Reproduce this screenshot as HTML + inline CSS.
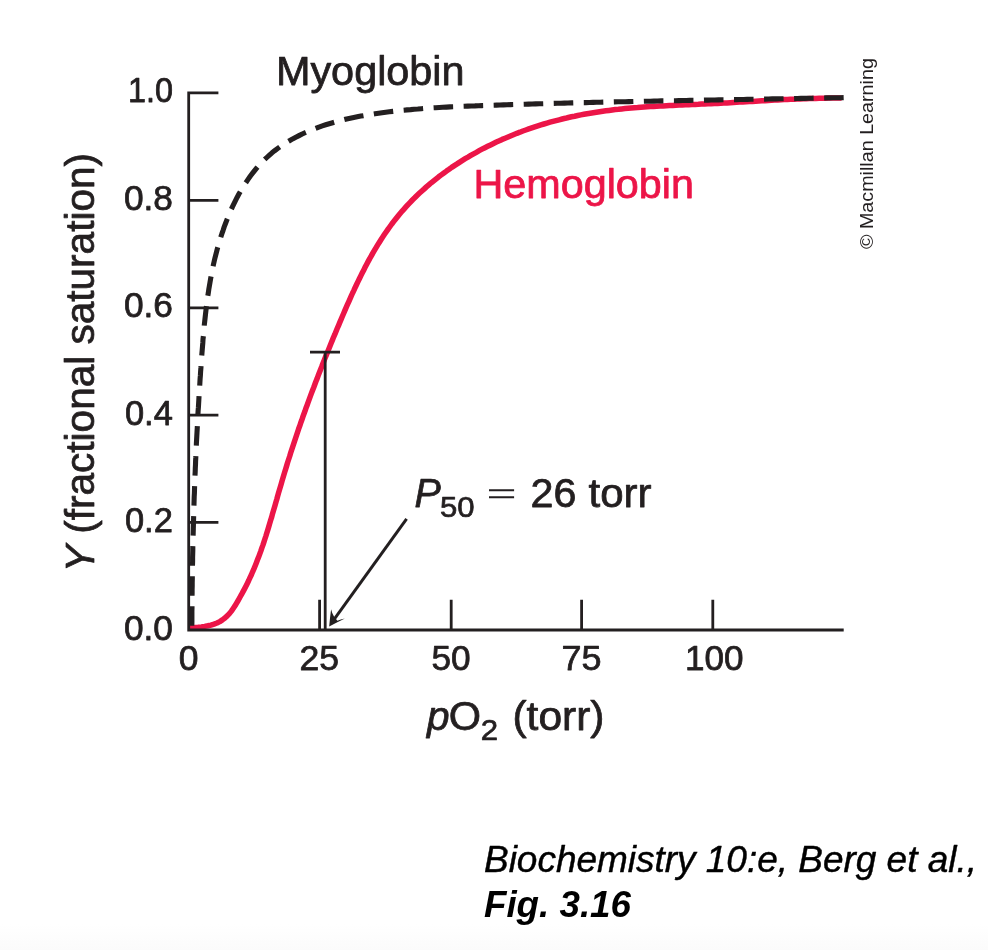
<!DOCTYPE html>
<html><head><meta charset="utf-8"><title>Fig 3.16</title>
<style>
html,body{margin:0;padding:0;background:#fff;}
body{width:988px;height:950px;overflow:hidden;font-family:"Liberation Sans",sans-serif;}
svg{display:block;position:absolute;left:0;top:0;will-change:transform;}
text{font-family:"Liberation Sans",sans-serif;fill:#231f20;}
.t{stroke:#231f20;stroke-linejoin:round;}
.r{fill:#ec1548;stroke:#ec1548;stroke-linejoin:round;}
.b{stroke-width:0.75px;}
.k{stroke-width:0.75px;}
.s{stroke-width:0.7px;}
.c{fill:#000;}
#cap1{stroke:#000;stroke-width:0.45px;stroke-linejoin:round;}
.ax{stroke:#231f20;stroke-width:2.8;fill:none;}
</style></head><body>
<svg width="988" height="950" viewBox="0 0 988 950">
<rect x="0" y="0" width="988" height="950" fill="#ffffff"/>
<defs><linearGradient id="bg" x1="0" y1="0" x2="0" y2="1"><stop offset="0" stop-color="#ffffff"/><stop offset="1" stop-color="#fbfbfb"/></linearGradient></defs>
<rect x="0" y="924" width="988" height="26" fill="url(#bg)"/>
<!-- hemoglobin curve -->
<path id="hb" d="M188.7,627.9 L191.8,627.7 L194.9,627.5 L198.1,627.3 L201.3,626.9 L204.6,626.4 L207.8,625.8 L210.9,625.1 L214.0,624.1 L217.0,623.0 L219.8,621.6 L222.4,619.9 L224.9,618.0 L227.2,615.9 L229.4,613.6 L231.4,611.1 L233.2,608.5 L235.0,605.8 L236.6,603.1 L238.3,600.3 L239.8,597.5 L241.4,594.7 L242.9,591.9 L244.4,589.1 L245.9,586.2 L247.3,583.4 L248.7,580.5 L250.0,577.6 L251.4,574.7 L252.6,571.8 L253.9,568.9 L255.1,566.0 L256.3,563.0 L257.4,560.1 L258.6,557.1 L259.7,554.1 L260.8,551.1 L261.8,548.1 L262.9,545.1 L263.9,542.1 L264.9,539.0 L265.9,536.0 L266.8,533.0 L267.8,529.9 L268.7,526.9 L269.6,523.8 L270.5,520.7 L271.5,517.7 L272.3,514.6 L273.2,511.5 L274.1,508.5 L275.0,505.4 L275.9,502.3 L276.8,499.3 L277.6,496.2 L278.5,493.1 L279.4,490.0 L280.3,487.0 L281.2,483.9 L282.1,480.8 L283.0,477.8 L283.9,474.7 L284.8,471.7 L285.8,468.6 L286.7,465.6 L287.6,462.5 L288.6,459.5 L289.6,456.5 L290.5,453.4 L291.5,450.4 L292.5,447.4 L293.5,444.4 L294.5,441.3 L295.5,438.3 L296.5,435.3 L297.5,432.3 L298.5,429.3 L299.6,426.3 L300.6,423.3 L301.7,420.3 L302.7,417.3 L303.8,414.3 L304.9,411.3 L305.9,408.3 L307.0,405.4 L308.1,402.4 L309.2,399.4 L310.3,396.4 L311.4,393.4 L312.5,390.5 L313.7,387.5 L314.8,384.5 L315.9,381.5 L317.1,378.6 L318.2,375.6 L319.4,372.6 L320.5,369.7 L321.7,366.7 L322.8,363.7 L324.0,360.8 L325.2,357.8 L326.4,354.9 L327.6,351.9 L328.8,349.0 L330.0,346.0 L331.2,343.0 L332.4,340.1 L333.6,337.1 L334.9,334.2 L336.1,331.2 L337.3,328.3 L338.6,325.3 L339.8,322.4 L341.1,319.4 L342.3,316.5 L343.6,313.5 L344.8,310.6 L346.1,307.6 L347.4,304.7 L348.7,301.8 L350.0,298.8 L351.3,295.9 L352.6,293.0 L354.0,290.1 L355.3,287.2 L356.7,284.3 L358.1,281.4 L359.5,278.5 L360.9,275.6 L362.3,272.8 L363.8,269.9 L365.2,267.1 L366.7,264.2 L368.2,261.4 L369.7,258.6 L371.3,255.9 L372.8,253.1 L374.4,250.4 L376.1,247.6 L377.7,244.9 L379.4,242.2 L381.1,239.6 L382.8,236.9 L384.5,234.3 L386.3,231.7 L388.1,229.1 L390.0,226.5 L391.8,224.0 L393.8,221.4 L395.7,219.0 L397.7,216.5 L399.7,214.1 L401.7,211.6 L403.8,209.3 L405.9,206.9 L408.0,204.6 L410.2,202.3 L412.4,200.0 L414.7,197.8 L417.0,195.5 L419.3,193.3 L421.6,191.2 L424.0,189.1 L426.4,186.9 L428.8,184.9 L431.2,182.8 L433.7,180.8 L436.2,178.8 L438.7,176.8 L441.3,174.9 L443.9,173.0 L446.5,171.1 L449.1,169.3 L451.7,167.4 L454.4,165.6 L457.1,163.9 L459.8,162.1 L462.5,160.4 L465.2,158.7 L468.0,157.1 L470.8,155.4 L473.6,153.8 L476.4,152.3 L479.2,150.7 L482.0,149.2 L484.9,147.7 L487.7,146.3 L490.6,144.9 L493.5,143.5 L496.4,142.1 L499.3,140.8 L502.2,139.4 L505.1,138.2 L508.1,136.9 L511.0,135.7 L514.0,134.5 L516.9,133.3 L519.9,132.2 L522.9,131.0 L525.8,130.0 L528.8,128.9 L531.8,127.9 L534.8,126.9 L537.9,125.9 L540.9,124.9 L543.9,124.0 L547.0,123.1 L550.0,122.2 L553.0,121.4 L556.1,120.6 L559.2,119.8 L562.2,119.0 L565.3,118.3 L568.4,117.5 L571.5,116.8 L574.6,116.2 L577.7,115.5 L580.8,114.9 L583.9,114.3 L587.0,113.7 L590.2,113.2 L593.3,112.7 L596.4,112.2 L599.6,111.7 L602.7,111.2 L605.9,110.8 L609.0,110.4 L612.2,110.0 L615.3,109.6 L618.5,109.3 L621.7,108.9 L624.9,108.6 L628.0,108.3 L631.2,108.0 L634.4,107.7 L637.6,107.5 L640.8,107.2 L644.0,107.0 L647.1,106.8 L650.3,106.6 L653.5,106.4 L656.7,106.2 L659.9,106.0 L663.1,105.9 L666.3,105.7 L669.5,105.5 L672.7,105.4 L675.9,105.2 L679.1,105.1 L682.3,104.9 L685.5,104.8 L688.7,104.7 L691.9,104.5 L695.1,104.4 L698.3,104.3 L701.5,104.1 L704.7,104.0 L707.9,103.8 L711.1,103.7 L714.3,103.5 L717.5,103.4 L720.6,103.2 L723.8,103.0 L727.0,102.9 L730.2,102.7 L733.4,102.5 L736.5,102.3 L739.7,102.1 L742.9,101.9 L746.0,101.8 L749.2,101.6 L752.4,101.4 L755.6,101.2 L758.7,101.0 L761.9,100.8 L765.1,100.7 L768.2,100.5 L771.4,100.3 L774.6,100.1 L777.7,100.0 L780.9,99.8 L784.1,99.6 L787.3,99.5 L790.4,99.3 L793.6,99.2 L796.8,99.1 L800.0,98.9 L803.2,98.8 L806.3,98.7 L809.5,98.6 L812.7,98.5 L815.9,98.4 L819.1,98.3 L822.3,98.2 L825.5,98.2 L828.7,98.1 L831.9,98.1 L835.2,98.1 L838.4,98.1 L841.6,98.1" fill="none" stroke="#ec1548" stroke-width="5.5" stroke-linejoin="round" stroke-linecap="butt"/>
<!-- axes -->
<path class="ax" d="M218.4,92.9 H188.7 V630 H843.7"/>
<path class="ax" d="M188.7,200.4 H218.4 M188.7,307.9 H218.4 M188.7,415.2 H218.4 M188.7,522.4 H218.4"/>
<path class="ax" d="M319.6,599.8 V630 M451.2,599.8 V630 M581.6,599.8 V630 M712.8,599.8 V630"/>
<!-- P50 marker -->
<path class="ax" d="M325.2,352.1 V630 M310,352.1 H340"/>
<!-- myoglobin curve -->
<path id="mb" d="M191.8,625.8 L191.9,622.2 L191.9,618.6 L191.9,615.0 L191.9,611.4 L192.0,607.8 L192.0,604.2 L192.0,600.6 L192.0,597.0 L192.1,593.4 L192.1,589.8 L192.2,586.2 L192.2,582.6 L192.3,579.0 L192.3,575.5 L192.4,571.9 L192.4,568.3 L192.5,564.7 L192.6,561.1 L192.6,557.5 L192.7,554.0 L192.8,550.4 L192.8,546.8 L192.9,543.2 L193.0,539.6 L193.1,536.1 L193.2,532.5 L193.3,528.9 L193.4,525.3 L193.5,521.8 L193.6,518.2 L193.7,514.6 L193.8,511.0 L193.9,507.5 L194.0,503.9 L194.1,500.3 L194.2,496.7 L194.4,493.2 L194.5,489.6 L194.6,486.0 L194.8,482.4 L194.9,478.9 L195.0,475.3 L195.2,471.7 L195.3,468.2 L195.5,464.6 L195.6,461.0 L195.8,457.4 L195.9,453.9 L196.1,450.3 L196.3,446.7 L196.4,443.1 L196.6,439.6 L196.8,436.0 L197.0,432.4 L197.2,428.9 L197.4,425.3 L197.5,421.7 L197.7,418.1 L197.9,414.6 L198.1,411.0 L198.4,407.4 L198.6,403.8 L198.8,400.3 L199.0,396.7 L199.2,393.1 L199.4,389.5 L199.7,385.9 L199.9,382.4 L200.1,378.8 L200.4,375.2 L200.6,371.6 L200.9,368.0 L201.1,364.5 L201.4,360.9 L201.6,357.3 L201.9,353.7 L202.2,350.1 L202.5,346.5 L202.8,343.0 L203.0,339.4 L203.4,335.8 L203.7,332.2 L204.0,328.6 L204.3,325.0 L204.7,321.5 L205.1,317.9 L205.5,314.3 L205.9,310.8 L206.3,307.2 L206.8,303.6 L207.2,300.1 L207.7,296.5 L208.3,293.0 L208.8,289.4 L209.4,285.9 L210.0,282.4 L210.6,278.8 L211.3,275.3 L212.0,271.8 L212.7,268.3 L213.4,264.8 L214.2,261.3 L215.0,257.8 L215.9,254.4 L216.8,250.9 L217.7,247.4 L218.7,244.0 L219.7,240.6 L220.8,237.1 L221.9,233.7 L223.1,230.3 L224.2,226.9 L225.5,223.5 L226.8,220.1 L228.1,216.8 L229.5,213.5 L230.9,210.2 L232.4,206.9 L234.0,203.6 L235.6,200.4 L237.2,197.2 L238.9,194.0 L240.7,190.9 L242.5,187.8 L244.4,184.8 L246.4,181.8 L248.4,178.9 L250.4,176.0 L252.6,173.2 L254.8,170.4 L257.0,167.7 L259.4,165.0 L261.8,162.5 L264.2,159.9 L266.8,157.5 L269.4,155.1 L272.0,152.8 L274.8,150.6 L277.6,148.5 L280.5,146.4 L283.4,144.5 L286.4,142.5 L289.5,140.7 L292.6,138.9 L295.8,137.2 L299.0,135.6 L302.2,134.0 L305.5,132.5 L308.8,131.1 L312.1,129.7 L315.5,128.4 L318.9,127.1 L322.3,125.9 L325.7,124.8 L329.2,123.7 L332.7,122.7 L336.1,121.7 L339.6,120.8 L343.1,119.9 L346.6,119.0 L350.2,118.2 L353.7,117.5 L357.2,116.8 L360.8,116.1 L364.3,115.5 L367.9,114.8 L371.4,114.3 L375.0,113.7 L378.6,113.2 L382.1,112.7 L385.7,112.2 L389.3,111.8 L392.8,111.4 L396.4,111.0 L400.0,110.6 L403.5,110.2 L407.1,109.9 L410.7,109.6 L414.2,109.2 L417.8,109.0 L421.4,108.7 L424.9,108.4 L428.5,108.2 L432.1,107.9 L435.6,107.7 L439.2,107.5 L442.8,107.3 L446.4,107.1 L449.9,106.9 L453.5,106.8 L457.1,106.6 L460.6,106.4 L464.2,106.3 L467.8,106.1 L471.3,106.0 L474.9,105.9 L478.5,105.7 L482.1,105.6 L485.6,105.5 L489.2,105.4 L492.8,105.2 L496.4,105.1 L499.9,105.0 L503.5,104.9 L507.1,104.8 L510.7,104.6 L514.2,104.5 L517.8,104.4 L521.4,104.3 L525.0,104.2 L528.6,104.1 L532.1,104.0 L535.7,103.9 L539.3,103.8 L542.9,103.7 L546.4,103.6 L550.0,103.5 L553.6,103.4 L557.2,103.3 L560.8,103.2 L564.4,103.1 L567.9,103.0 L571.5,102.9 L575.1,102.8 L578.7,102.7 L582.3,102.6 L585.8,102.6 L589.4,102.5 L593.0,102.4 L596.6,102.3 L600.2,102.2 L603.8,102.1 L607.3,102.1 L610.9,102.0 L614.5,101.9 L618.1,101.8 L621.7,101.7 L625.3,101.7 L628.9,101.6 L632.4,101.5 L636.0,101.4 L639.6,101.4 L643.2,101.3 L646.8,101.2 L650.4,101.2 L653.9,101.1 L657.5,101.0 L661.1,100.9 L664.7,100.9 L668.3,100.8 L671.9,100.7 L675.5,100.7 L679.0,100.6 L682.6,100.5 L686.2,100.5 L689.8,100.4 L693.4,100.3 L697.0,100.3 L700.6,100.2 L704.1,100.1 L707.7,100.1 L711.3,100.0 L714.9,100.0 L718.5,99.9 L722.1,99.8 L725.6,99.8 L729.2,99.7 L732.8,99.6 L736.4,99.6 L740.0,99.5 L743.6,99.5 L747.1,99.4 L750.7,99.3 L754.3,99.3 L757.9,99.2 L761.5,99.1 L765.1,99.1 L768.6,99.0 L772.2,98.9 L775.8,98.9 L779.4,98.8 L783.0,98.8 L786.5,98.7 L790.1,98.6 L793.7,98.6 L797.3,98.5 L800.9,98.4 L804.4,98.4 L808.0,98.3 L811.6,98.2 L815.2,98.1 L818.7,98.1 L822.3,98.0 L825.9,97.9 L829.5,97.9 L833.0,97.8 L836.6,97.7 L840.2,97.7 L843.8,97.6" fill="none" stroke="#231f20" stroke-width="5.1" stroke-dasharray="19.534 10.519" stroke-linejoin="round"/>
<!-- arrow -->
<path d="M406.6,518.9 L333.4,620.4" stroke="#231f20" stroke-width="3.0" fill="none"/>
<path d="M329.2,626.4 Q329.9,618.0 331.1,609.2 Q332.2,613.8 334.0,616.6 L337.4,620.7 Q340.5,619.6 344.9,618.5 Q336.6,622.6 329.2,626.4 Z" fill="#231f20"/>
<!-- equals sign -->
<path d="M489,490.2 H514.1 M489,497.3 H514.1" stroke="#231f20" stroke-width="2.1" fill="none"/>
<!-- labels -->
<text id="myo" class="t b" x="275.98" y="85.1" font-size="39.8" style="" textLength="188.59" lengthAdjust="spacingAndGlyphs">Myoglobin</text>
<text id="hemo" class="r b" x="473.44" y="197.6" font-size="39.8" style="" textLength="220.56" lengthAdjust="spacingAndGlyphs">Hemoglobin</text>
<text id="y10" class="t k" x="128.00" y="102.4" font-size="34.3" style="" textLength="45.03" lengthAdjust="spacingAndGlyphs">1.0</text>
<text id="y08" class="t k" x="123.93" y="209.9" font-size="34.3" style="" textLength="49.03" lengthAdjust="spacingAndGlyphs">0.8</text>
<text id="y06" class="t k" x="123.93" y="317.4" font-size="34.3" style="" textLength="49.03" lengthAdjust="spacingAndGlyphs">0.6</text>
<text id="y04" class="t k" x="124.93" y="424.7" font-size="34.3" style="" textLength="47.99" lengthAdjust="spacingAndGlyphs">0.4</text>
<text id="y02" class="t k" x="124.95" y="531.9" font-size="34.3" style="" textLength="47.97" lengthAdjust="spacingAndGlyphs">0.2</text>
<text id="y00" class="t k" x="123.94" y="639.5" font-size="34.3" style="" textLength="49.00" lengthAdjust="spacingAndGlyphs">0.0</text>
<text id="x0" class="t k" x="178.86" y="670.1" font-size="34.3" style="" textLength="19.73" lengthAdjust="spacingAndGlyphs">0</text>
<text id="x25" class="t k" x="299.46" y="670.1" font-size="34.3" style="" textLength="39.57" lengthAdjust="spacingAndGlyphs">25</text>
<text id="x50" class="t k" x="431.45" y="670.1" font-size="34.3" style="" textLength="39.18" lengthAdjust="spacingAndGlyphs">50</text>
<text id="x75" class="t k" x="561.47" y="670.1" font-size="34.3" style="" textLength="40.02" lengthAdjust="spacingAndGlyphs">75</text>
<text id="x100" class="t k" x="684.95" y="670.1" font-size="34.3" style="" textLength="58.50" lengthAdjust="spacingAndGlyphs">100</text>
<text id="xp" class="t b" x="427.04" y="730" font-size="39.8" style="font-style:italic" textLength="22.56" lengthAdjust="spacingAndGlyphs">p</text>
<text id="xO" class="t b" x="448.86" y="730" font-size="39.8" style="" textLength="32.30" lengthAdjust="spacingAndGlyphs">O</text>
<text id="x2" class="t s" x="480.82" y="740.3" font-size="29" style="" textLength="17.31" lengthAdjust="spacingAndGlyphs">2</text>
<text id="xt" class="t b" x="512.41" y="730" font-size="39.8" style="" textLength="92.11" lengthAdjust="spacingAndGlyphs">(torr)</text>
<text id="pP" class="t b" x="414.43" y="506.6" font-size="39.8" style="font-style:italic" textLength="26.25" lengthAdjust="spacingAndGlyphs">P</text>
<text id="p50" class="t s" x="440.06" y="516.6" font-size="29" style="" textLength="34.56" lengthAdjust="spacingAndGlyphs">50</text>
<text id="p26" class="t b" x="530.46" y="506.6" font-size="39.8" style="" textLength="45.93" lengthAdjust="spacingAndGlyphs">26</text>
<text id="ptorr" class="t b" x="588.47" y="506.6" font-size="39.8" style="" textLength="63.04" lengthAdjust="spacingAndGlyphs">torr</text>
<text id="cap1" class="c" x="484.00" y="872.2" font-size="36.6" style="font-style:italic" textLength="492.98" lengthAdjust="spacingAndGlyphs">Biochemistry 10:e, Berg et al.,</text>
<text id="cap2" class="c" x="483.98" y="917" font-size="36.6" style="font-style:italic;font-weight:bold" textLength="147.03" lengthAdjust="spacingAndGlyphs">Fig. 3.16</text>
<text id="ylab" class="t b" transform="translate(94.3,572.06) rotate(-90)" font-size="39.8" textLength="419.09" lengthAdjust="spacingAndGlyphs"><tspan font-style="italic">Y</tspan> (fractional saturation)</text>
<text id="copy" transform="translate(872.7,249.04) rotate(-90)" font-size="18" textLength="190.88" lengthAdjust="spacingAndGlyphs">© Macmillan Learning</text>
</svg>
</body></html>
